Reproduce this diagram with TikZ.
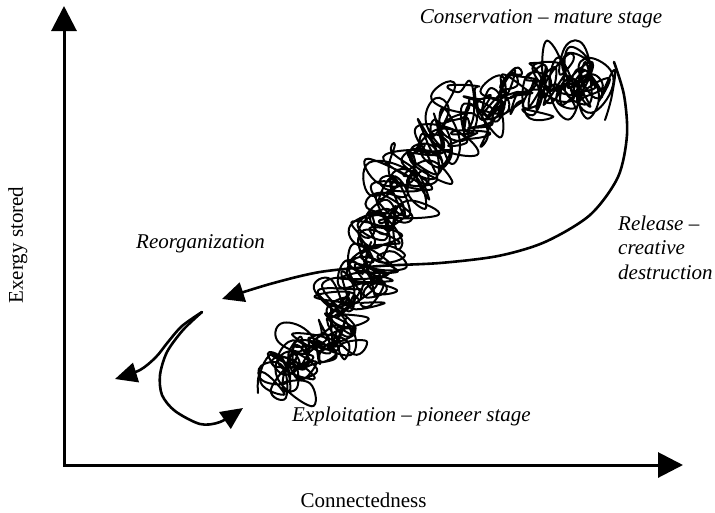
\documentclass[tikz,border=0pt]{standalone}
\usepackage{fontspec}
\setmainfont{Liberation Serif}
\usetikzlibrary{arrows.meta}
\begin{document}
\begin{tikzpicture}[x=1pt,y=-1pt,
  axis/.style={line width=3pt, line join=miter, {Triangle[length=25pt,width=25pt]}-{Triangle[length=25pt,width=25pt]}},
  flow/.style={line width=2.6pt, line cap=round, -{Triangle[length=22pt,width=20pt]}},
  scrib/.style={line width=2pt, line join=round, line cap=round},
  lbl/.style={font=\fontsize{21}{24.5}\selectfont\itshape, inner sep=0pt},
  axlbl/.style={font=\fontsize{21}{24.5}\selectfont, inner sep=0pt}]
\useasboundingbox (0,0) rectangle (715,512);
% axes
\coordinate (O) at (64,465);
\coordinate (ytip) at (64,6);
\coordinate (xtip) at (683,465);
\draw[axis] (ytip) -- (O) -- (xtip);
% scribble: three passes (up, down, up) of loops along a wide band
\pgfmathsetseed{31}
\gdef\scr{(258,393) (262,372) }
\gdef\lat{0}
\gdef\myphi{0}
\def\segsF{275/378/305/360/19, 305/360/333/328/22, 333/328/356/290/24, 356/290/376/250/24, 376/250/397/205/25, 397/205/420/160/26, 420/160/448/124/27, 448/124/485/98/26, 485/98/530/84/24, 530/84/570/80/23, 570/80/598/83/21}
\def\segsR{598/83/570/80/23, 570/80/530/84/24, 530/84/485/98/26, 485/98/448/124/27, 448/124/420/160/27, 420/160/397/205/26, 397/205/376/250/25, 376/250/356/290/24, 356/290/333/328/24, 333/328/305/360/22, 305/360/275/378/19}
\edef\segsAll{\segsF, \segsR, \segsF}
\foreach \ax/\ay/\bx/\by/\w in \segsAll {
  \pgfmathsetmacro\seglen{veclen(\bx-\ax,\by-\ay)}
  \pgfmathsetmacro\nx{-(\by-\ay)/\seglen}
  \pgfmathsetmacro\ny{(\bx-\ax)/\seglen}
  \foreach \i in {0,...,15}{
    \pgfmathsetmacro\newlat{0.55*\lat+0.85*\w*rand}
    \xdef\lat{\newlat}
    \pgfmathsetmacro\newphi{mod(\myphi+105+50*rand,360)}
    \xdef\myphi{\newphi}
    \pgfmathsetmacro\rr{13+6*rand}
    \pgfmathsetmacro\px{\ax+(\bx-\ax)*\i/16+\nx*\lat+\rr*cos(\myphi)}
    \pgfmathsetmacro\py{\ay+(\by-\ay)*\i/16+\ny*\lat+\rr*sin(\myphi)}
    \xdef\scr{\scr (\px,\py) }
  }
}
\xdef\scr{\scr (614,70) (612,95) (605,120)}
\draw[scrib] plot[smooth, tension=0.8] coordinates {\scr};
% release loop
\coordinate (rel0) at (614,62);
\coordinate (relend) at (222,299);
\draw[flow] plot[smooth] coordinates {(rel0) (624,95) (627,135) (618,177) (590,215) (545,242) (498,256) (440,263) (380,266) (320,272) (270,284) (relend)};
% reorganization hook
\coordinate (hk) at (202,312);
\coordinate (hkL) at (115,379);
\coordinate (hkR) at (243,408);
\draw[flow] plot[smooth] coordinates {(hk) (182,326) (168,342) (156,357) (140,370) (hkL)};
\draw[flow] plot[smooth] coordinates {(hk) (183,330) (167,352) (160,375) (162,395) (175,411) (200,424) (220,422) (hkR)};
% labels
\node[lbl, anchor=base] (cons) at (541,23) {Conservation – mature stage};
\node[lbl, anchor=base west] (reorg) at (136,248) {Reorganization};
\node[lbl, anchor=base west] (rel1) at (618,230) {Release –};
\node[lbl, anchor=base west] (rel2) at (618,254.5) {creative};
\node[lbl, anchor=base west] (rel3) at (618,279) {destruction};
\node[lbl, anchor=base west] (expl) at (292,421) {Exploitation – pioneer stage};
\node[axlbl, anchor=base] (conn) at (363.5,507) {Connectedness};
\node[axlbl, anchor=base, rotate=90] (exer) at (23,245) {Exergy stored};
\end{tikzpicture}
\end{document}
